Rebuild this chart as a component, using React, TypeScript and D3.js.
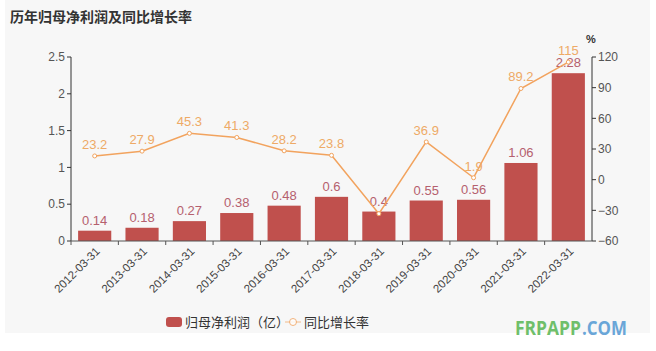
import React from "react";
import * as d3 from "d3";

const categories = ["2012-03-31","2013-03-31","2014-03-31","2015-03-31","2016-03-31","2017-03-31","2018-03-31","2019-03-31","2020-03-31","2021-03-31","2022-03-31"];
const profit = [0.14,0.18,0.27,0.38,0.48,0.6,0.4,0.55,0.56,1.06,2.28];
const growth = [23.2,27.9,45.3,41.3,28.2,23.8,-33.3,36.9,1.9,89.2,115];
const growthLabelShown = [true,true,true,true,true,true,false,true,true,true,true];
const leftTicks = [0,0.5,1,1.5,2,2.5];
const rightTicks = [-60,-30,0,30,60,90,120];

const W = 656, H = 351;
const left = 71, right = 592, top = 57, bottom = 241;
const barColor = "#c0504d";
const lineColor = "#f2a35e";
const font = "'Liberation Sans', 'Noto Sans CJK SC', sans-serif";

export default function App() {
  const x = d3.scaleBand<string>().domain(categories).range([left, right]).paddingInner(0.3).paddingOuter(0.15);
  const band = d3.scaleBand<string>().domain(categories).range([left, right]);
  const yL = d3.scaleLinear().domain([0, 2.5]).range([bottom, top]);
  const yR = d3.scaleLinear().domain([-60, 120]).range([bottom, top]);
  const cx = (c: string) => (band(c) as number) + band.bandwidth() / 2;
  const line = d3.line<number>().x((_, i) => cx(categories[i])).y(d => yR(d));

  return (
    <svg width={W} height={H} style={{ position: "absolute", left: 0, top: 0, fontFamily: font }}>
      <rect x={0} y={0} width={W} height={H} fill="#ffffff" />
      <rect x={5} y={0} width={645} height={333} fill="#f7f7f7" />
      <text x={10} y={22} fontSize={14} fontWeight="bold" fill="#333" fontFamily="'Noto Sans CJK SC', sans-serif">历年归母净利润及同比增长率</text>

      {/* left axis */}
      <line x1={left} x2={left} y1={top} y2={bottom} stroke="#333" />
      {leftTicks.map(t => (
        <g key={"l" + t}>
          <line x1={left - 4} x2={left} y1={yL(t)} y2={yL(t)} stroke="#333" />
          <text x={left - 6} y={yL(t)} dy="0.35em" textAnchor="end" fontSize={12} fill="#555">{t}</text>
        </g>
      ))}
      {/* right axis */}
      <line x1={right} x2={right} y1={top} y2={bottom} stroke="#333" />
      {rightTicks.map(t => (
        <g key={"r" + t}>
          <line x1={right} x2={right + 4} y1={yR(t)} y2={yR(t)} stroke="#333" />
          <text x={right + 6} y={yR(t)} dy="0.35em" fontSize={12} fill="#555">{t < 0 ? "\u2212" + Math.abs(t) : t}</text>
        </g>
      ))}
      <text x={591} y={43} textAnchor="middle" fontSize={11} fontWeight="bold" fill="#333">%</text>

      {/* bars */}
      {categories.map((c, i) => (
        <g key={"b" + c}>
          <rect x={x(c)} y={yL(profit[i])} width={x.bandwidth()} height={bottom - yL(profit[i])} fill={barColor} />
          <text x={cx(c)} y={yL(profit[i]) - 6} textAnchor="middle" fontSize={13} fill="#b5606e">{profit[i]}</text>
        </g>
      ))}

      {/* x axis */}
      <line x1={left} x2={right} y1={bottom} y2={bottom} stroke="#555" />
      {categories.map((c, i) => (
        <g key={"x" + c}>
          <line x1={band(c)} x2={band(c)} y1={bottom} y2={bottom + 4} stroke="#555" />
          <text transform={`translate(${cx(c) + 3},${bottom + 8}) rotate(-45)`} textAnchor="end" dy="0.35em" fontSize={11.5} fill="#444">{c}</text>
        </g>
      ))}

      {/* line */}
      <path d={line(growth) || ""} fill="none" stroke={lineColor} strokeWidth={1.5} />
      {categories.map((c, i) => (
        <g key={"p" + c}>
          <circle cx={cx(c)} cy={yR(growth[i])} r={2} fill="#fff" stroke={lineColor} strokeWidth={1} />
          {growthLabelShown[i] && (
            <text x={cx(c)} y={yR(growth[i]) - 7} textAnchor="middle" fontSize={13} fill="#eeaa66">{growth[i]}</text>
          )}
        </g>
      ))}

      {/* legend */}
      <rect x={166} y={317} width={16} height={10} rx={3} fill={barColor} />
      <text x={185} y={322} dy="0.35em" fontSize={13} fill="#333">归母净利润（亿）</text>
      <line x1={285} x2={301} y1={322} y2={322} stroke={lineColor} strokeWidth={1} opacity={0.7} />
      <circle cx={293} cy={322} r={3.5} fill="#fff" stroke={lineColor} strokeWidth={1} opacity={0.8} />
      <text x={304} y={322} dy="0.35em" fontSize={13} fill="#333">同比增长率</text>

      {/* watermark */}
      <text x={515} y={335} fontSize={19} fontWeight="bold" fontFamily="'Open Sans', sans-serif" fill="#6fbf6a" textLength={66} lengthAdjust="spacingAndGlyphs">FRPAPP</text>
      <text x={582} y={335} fontSize={19} fontWeight="bold" fontFamily="'Open Sans', sans-serif" fill="#6aa6d8" textLength={45} lengthAdjust="spacingAndGlyphs">.COM</text>
    </svg>
  );
}
